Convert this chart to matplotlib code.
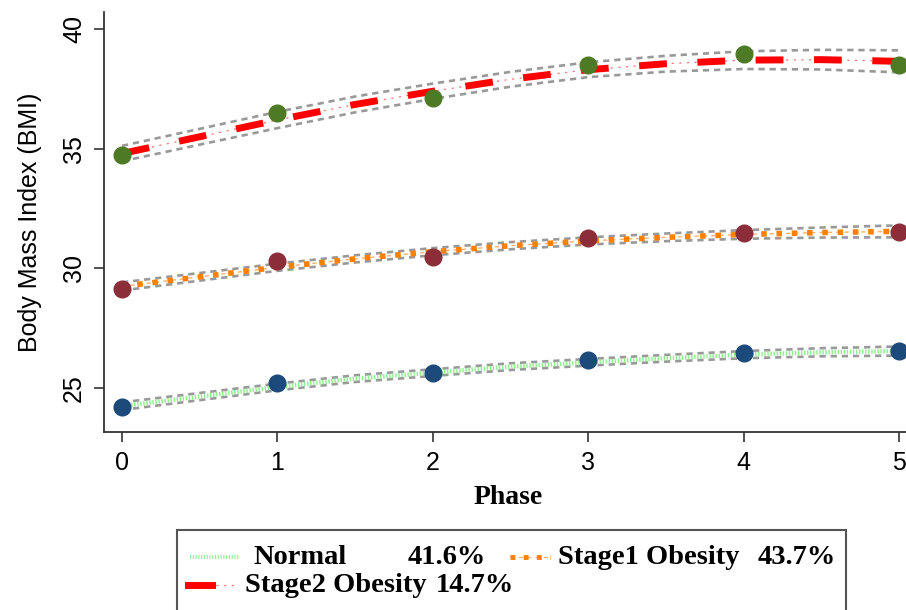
import matplotlib
matplotlib.use('Agg')
import matplotlib.pyplot as plt
from matplotlib.lines import Line2D
from matplotlib.patches import Rectangle

plt.rcParams['lines.scale_dashes'] = False

# observed means per phase
phase = [0, 1, 2, 3, 4, 5]
normal_obs = [24.21, 25.2, 25.63, 26.17, 26.46, 26.54]
stage1_obs = [29.13, 30.33, 30.46, 31.29, 31.5, 31.54]
stage2_obs = [34.75, 36.5, 37.13, 38.5, 38.96, 38.5]

# fitted curves (read at half-phase steps) and CI half-widths
fit_x = [0, 0.5, 1, 1.5, 2, 2.5, 3, 3.5, 4, 4.5, 5]
normal_fit = [24.25, 24.65, 25.05, 25.4, 25.65, 25.9, 26.08, 26.25, 26.4, 26.5, 26.55]
stage1_fit = [29.25, 29.65, 30.05, 30.4, 30.7, 30.95, 31.15, 31.3, 31.42, 31.5, 31.55]
stage2_fit = [34.8, 35.5, 36.2, 36.85, 37.4, 37.9, 38.3, 38.55, 38.7, 38.72, 38.65]
normal_hw = [0.16, 0.15, 0.14, 0.14, 0.14, 0.14, 0.14, 0.14, 0.15, 0.17, 0.19]
stage1_hw = [0.17, 0.16, 0.15, 0.15, 0.15, 0.15, 0.15, 0.16, 0.18, 0.21, 0.25]
stage2_hw = [0.32, 0.33, 0.34, 0.33, 0.32, 0.31, 0.31, 0.33, 0.37, 0.41, 0.46]

W, H = 906, 610
fig = plt.figure(figsize=(W / 100, H / 100), dpi=100)
ax = fig.add_axes([104 / W, 1 - 432 / H, (W - 104) / W, (432 - 12) / H])

gray = '#999999'
for fit, hw in [(normal_fit, normal_hw), (stage1_fit, stage1_hw), (stage2_fit, stage2_hw)]:
    up = [f + h for f, h in zip(fit, hw)]
    lo = [f - h for f, h in zip(fit, hw)]
    ax.plot(fit_x, up, color=gray, lw=1.9, dashes=(4.5, 3.5), zorder=2)
    ax.plot(fit_x, lo, color=gray, lw=1.9, dashes=(4.5, 3.5), zorder=2)

# Normal
ax.plot(fit_x, normal_fit, color='#90ee90', lw=3.2, dashes=(1, 1.2), zorder=3)
# Stage1
ax.plot(fit_x, stage1_fit, color='#ffb070', lw=1, dashes=(3, 3), zorder=3)
ax.plot(fit_x, stage1_fit, color='#ff7f00', lw=4, dashes=(4, 7), zorder=3)
# Stage2
ax.plot(fit_x, stage2_fit, color='#ff7070', lw=0.9, dashes=(1.5, 4), zorder=3)
ax.plot(fit_x, stage2_fit, color='#ff0000', lw=5, dashes=(20, 22), zorder=3)

ax.plot(phase, normal_obs, 'o', color='#1c4a7a', ms=12, zorder=4)
ax.plot(phase, stage1_obs, 'o', color='#8b2e3a', ms=12, zorder=4)
ax.plot(phase, stage2_obs, 'o', color='#4e7a26', ms=12, zorder=4)

ax.set_xlim(-0.116, 5.045)
ax.set_ylim(23.17, 40.71)
ax.set_xticks(phase)
ax.set_yticks([25, 30, 35, 40])
for s in ['top', 'right']:
    ax.spines[s].set_visible(False)
for s in ['left', 'bottom']:
    ax.spines[s].set_linewidth(1.3)
    ax.spines[s].set_color('#333333')
ax.tick_params(direction='out', length=7, width=1.2, colors='#333333')
ax.tick_params(axis='x', labelsize=18, pad=7)
ax.tick_params(axis='y', labelsize=18, pad=6)
for lab in ax.get_xticklabels() + ax.get_yticklabels():
    lab.set_family('Liberation Sans')
    lab.set_color('black')
for lab in ax.get_yticklabels():
    lab.set_rotation(90)
    lab.set_va('center')

fig.text(30 / W, 1 - 222 / H, 'Body Mass Index (BMI)', rotation=90, ha='center', va='center',
         fontsize=18, family='Liberation Sans')
fig.text(508 / W, 1 - 497 / H, 'Phase', ha='center', va='center', fontsize=20,
         family='Liberation Serif', weight='bold')

# legend box
fig.patches.append(Rectangle((177 / W, -0.05), (846 - 177) / W, 1 - 530 / H + 0.05,
                             transform=fig.transFigure, fill=False, ec='#555555', lw=1.5))

def fx(x):
    return x / W

def fy(y):
    return 1 - y / H

tf = fig.transFigure
fig.lines.append(Line2D([fx(190), fx(240)], [fy(557), fy(557)], transform=tf,
                        color='#90ee90', lw=3, dashes=(0.8, 1.2)))
fig.lines.append(Line2D([fx(510), fx(550)], [fy(557), fy(557)], transform=tf,
                        color='#ffb070', lw=1, dashes=(3, 3)))
fig.lines.append(Line2D([fx(510), fx(550)], [fy(557), fy(557)], transform=tf,
                        color='#ff7f00', lw=3.5, dashes=(3.5, 6)))
fig.lines.append(Line2D([fx(188), fx(212)], [fy(585), fy(585)], transform=tf,
                        color='#ff0000', lw=5))
fig.lines.append(Line2D([fx(216), fx(236)], [fy(585), fy(585)], transform=tf,
                        color='#ff7070', lw=0.9, dashes=(1.5, 4)))

legend_font = dict(fontsize=20.5, family='Liberation Serif', weight='bold', va='center', ha='left')
fig.text(fx(254), fy(557), 'Normal', **legend_font)
fig.text(fx(408), fy(557), '41.6%', **legend_font)
fig.text(fx(558), fy(557), 'Stage1 Obesity', **legend_font)
fig.text(fx(758), fy(557), '43.7%', **legend_font)
fig.text(fx(245), fy(585), 'Stage2 Obesity', **legend_font)
fig.text(fx(436), fy(585), '14.7%', **legend_font)

fig.savefig('out.png', dpi=100)
